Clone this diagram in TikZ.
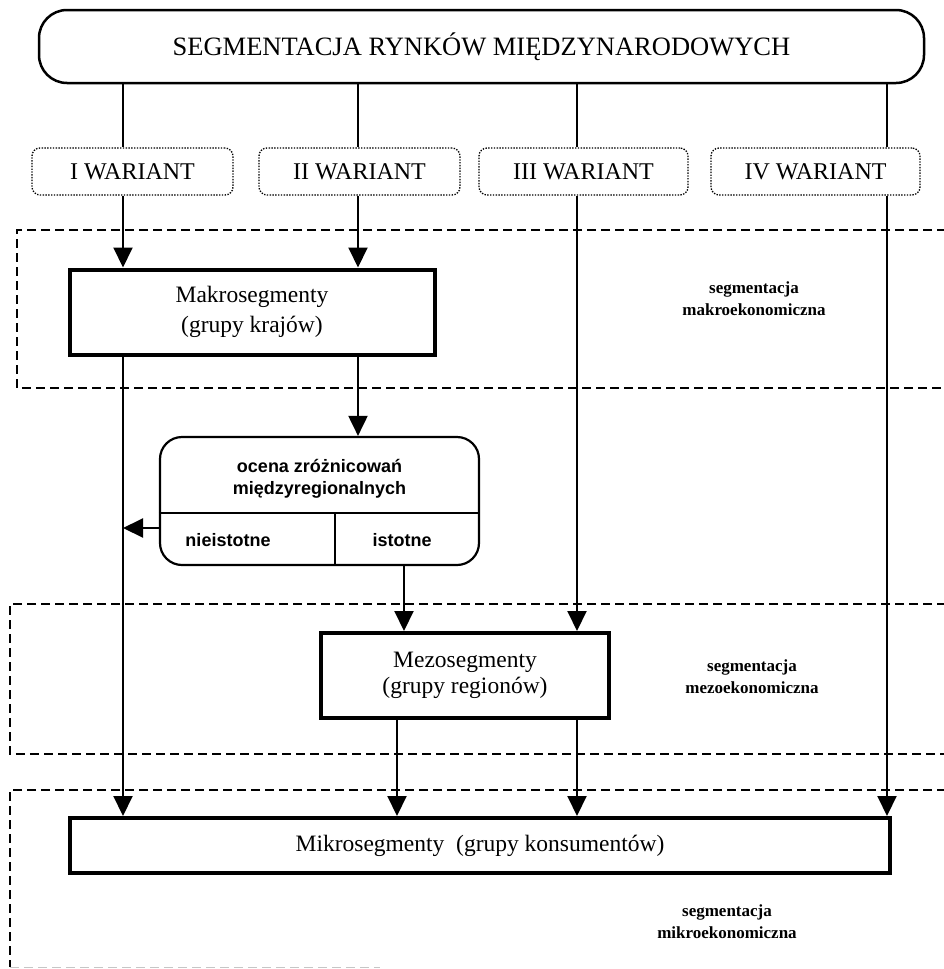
\documentclass[tikz,border=0pt]{standalone}
\usepackage{fontspec}
\setmainfont{Liberation Serif}
\newfontfamily\labfont{Liberation Sans}
\usetikzlibrary{arrows.meta}
\begin{document}
\begin{tikzpicture}[x=1pt,y=-1pt,
  conn/.style={line width=2pt},
  arr/.style={conn,-{Triangle[length=20pt,width=19pt]}},
  region/.style={line width=2.4pt,dash pattern=on 9pt off 5pt},
  topbox/.style={draw,line width=2.5pt,rounded corners=28pt,minimum width=885pt,minimum height=73pt,inner sep=0pt,font=\fontsize{26.5}{30}\selectfont},
  variant/.style={draw,line width=1.3pt,dash pattern=on 1.4pt off 1.4pt,rounded corners=8pt,minimum height=47pt,inner sep=0pt,font=\fontsize{24}{26}\selectfont},
  segbox/.style={draw,line width=4pt,inner sep=0pt,align=center},
  evalbox/.style={draw,line width=2.2pt,rounded corners=22pt,minimum width=319pt,minimum height=128pt,inner sep=0pt},
  evaltext/.style={font=\labfont\bfseries\fontsize{18}{22}\selectfont,align=center,inner sep=0pt},
  levellabel/.style={font=\bfseries\fontsize{17}{22}\selectfont,align=center,inner sep=0pt}
]
\useasboundingbox (0,0) rectangle (944,969);

% dashed level regions
\draw[region] (960,230) -- (17,230) -- (17,388) -- (960,388);
\draw[region] (960,604) -- (10,604) -- (10,754) -- (960,754);
\draw[region] (960,790) -- (10,790) -- (10,967);
\draw[line width=1.2pt,gray!45,dash pattern=on 9pt off 5pt] (10,967.5) -- (380,967.5);

% nodes
\node[topbox] (top) at (481.5,46.5) {SEGMENTACJA RYNKÓW MIĘDZYNARODOWYCH};
\node[variant,minimum width=201pt] (w1) at (132.5,171.5) {I WARIANT};
\node[variant,minimum width=201pt] (w2) at (359.5,171.5) {II WARIANT};
\node[variant,minimum width=209pt] (w3) at (583.5,171.5) {III WARIANT};
\node[variant,minimum width=209pt] (w4) at (815.5,171.5) {IV WARIANT};

\node[segbox,minimum width=365pt,minimum height=85pt,font=\fontsize{23.5}{30}\selectfont] (makro) at (252,312) {Makrosegmenty\\(grupy krajów)};
\node[evalbox] (ocena) at (319.5,501) {};
\node[evaltext] (ocenat) at (319.5,479) {ocena zróżnicowań\\międzyregionalnych};
\node[evaltext] (nie) at (228,540) {nieistotne};
\node[evaltext] (ist) at (402,540) {istotne};
\node[segbox,minimum width=288pt,minimum height=85pt,font=\fontsize{23.5}{26}\selectfont] (mezo) at (465,675.5) {Mezosegmenty\\(grupy regionów)};
\node[segbox,minimum width=820pt,minimum height=55pt,font=\fontsize{23.5}{26}\selectfont] (mikro) at (480,845.5) {Mikrosegmenty\ \ (grupy konsumentów)};

\node[levellabel] (lmakro) at (754,299) {segmentacja\\makroekonomiczna};
\node[levellabel] (lmezo) at (752,677) {segmentacja\\mezoekonomiczna};
\node[levellabel] (lmikro) at (727,922) {segmentacja\\mikroekonomiczna};

% helper coordinates
\coordinate (xI) at (123,0);
\coordinate (xII) at (358,0);
\coordinate (xIII) at (577,0);
\coordinate (xIV) at (887,0);
\coordinate (xIst) at (404,0);
\coordinate (xMz) at (397,0);
\coordinate (xDiv) at (335,0);
\coordinate (yDiv) at (0,513);
\coordinate (yNie) at (0,528);

% evaluation box dividers
\draw[line width=2pt] (ocena.west |- yDiv) -- (ocena.east |- yDiv);
\draw[line width=2pt] (xDiv |- yDiv) -- (ocena.south -| xDiv);

% connectors
\draw[conn] (top.south -| xI) -- (w1.north -| xI);
\draw[conn] (top.south -| xII) -- (w2.north -| xII);
\draw[conn] (top.south -| xIII) -- (w3.north -| xIII);
\draw[conn] (top.south -| xIV) -- (w4.north -| xIV);

\draw[arr] (w1.south -| xI) -- (makro.north -| xI);
\draw[arr] (w2.south -| xII) -- (makro.north -| xII);
\draw[arr] (w3.south -| xIII) -- (mezo.north -| xIII);
\draw[arr] (w4.south -| xIV) -- (mikro.north -| xIV);

\draw[arr] (makro.south -| xI) -- (mikro.north -| xI);
\draw[arr] (makro.south -| xII) -- (ocena.north -| xII);
\draw[arr] (ocena.west |- yNie) -- (xI |- yNie);
\draw[arr] (ocena.south -| xIst) -- (mezo.north -| xIst);

\draw[arr] (mezo.south -| xMz) -- (mikro.north -| xMz);
\draw[arr] (mezo.south -| xIII) -- (mikro.north -| xIII);
\end{tikzpicture}
\end{document}
